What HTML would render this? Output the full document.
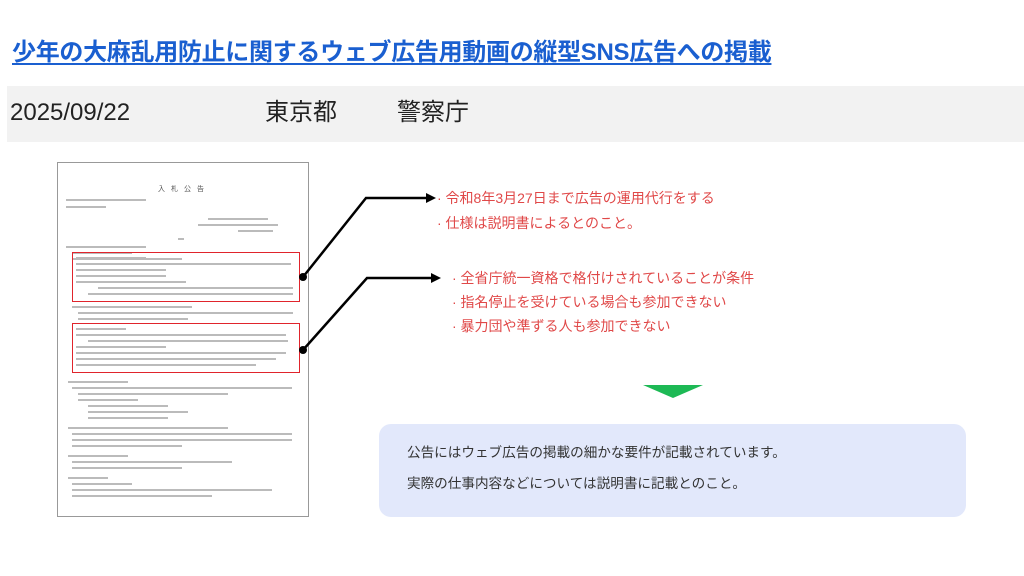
<!DOCTYPE html>
<html><head><meta charset="utf-8"><style>
*{margin:0;padding:0;box-sizing:border-box}
body{width:1024px;height:576px;background:#fff;position:relative;overflow:hidden;font-family:"Liberation Sans","Noto Sans CJK JP",sans-serif}
.a{position:absolute;white-space:nowrap;line-height:1}
.t{left:12px;top:41px;font-size:24px;font-weight:bold;color:#1a5fd0;text-decoration:underline;text-underline-offset:3px;letter-spacing:-0.3px}
.bar{left:7px;top:86px;width:1017px;height:56px;background:#f2f2f2}
.m{top:101px;font-size:24px;color:#222}
.doc{left:57px;top:162px;width:252px;height:355px;border:1px solid #999;background:#fff}
.l{position:absolute;height:2px;background:#bbb}
.rb{position:absolute;border:1.5px solid #e0242c}
.r{font-size:14px;color:#e04848}
.box{left:379px;top:424px;width:587px;height:93px;background:#e2e8fb;border-radius:12px}
.b{font-size:13.6px;color:#333}
</style></head><body>
<div class="a t">少年の大麻乱用防止に関するウェブ広告用動画の縦型SNS広告への掲載</div>
<div class="a bar"></div>
<div class="a m" style="left:10px">2025/09/22</div>
<div class="a m" style="left:265px">東京都</div>
<div class="a m" style="left:397px">警察庁</div>
<div class="a doc">
<div class="a" style="left:100px;top:23px;font-size:7px;color:#555;letter-spacing:6px">入札公告</div>
<div class="l" style="left:8px;top:36px;width:80px"></div>
<div class="l" style="left:8px;top:43px;width:40px"></div>
<div class="l" style="left:150px;top:55px;width:60px"></div>
<div class="l" style="left:140px;top:61px;width:80px"></div>
<div class="l" style="left:180px;top:67px;width:35px"></div>
<div class="l" style="left:120px;top:75px;width:6px"></div>
<div class="l" style="left:8px;top:83px;width:80px"></div>
<div class="l" style="left:14px;top:89px;width:60px"></div>
<div class="l" style="left:14px;top:95px;width:110px"></div>
<div class="rb" style="left:14px;top:89px;width:228px;height:50px"></div>
<div class="l" style="left:18px;top:94px;width:70px"></div>
<div class="l" style="left:18px;top:100px;width:215px"></div>
<div class="l" style="left:18px;top:106px;width:90px"></div>
<div class="l" style="left:18px;top:112px;width:90px"></div>
<div class="l" style="left:18px;top:118px;width:110px"></div>
<div class="l" style="left:40px;top:124px;width:195px"></div>
<div class="l" style="left:30px;top:130px;width:205px"></div>
<div class="l" style="left:14px;top:143px;width:120px"></div>
<div class="l" style="left:20px;top:149px;width:215px"></div>
<div class="l" style="left:20px;top:155px;width:110px"></div>
<div class="rb" style="left:14px;top:160px;width:228px;height:50px"></div>
<div class="l" style="left:18px;top:165px;width:50px"></div>
<div class="l" style="left:18px;top:171px;width:210px"></div>
<div class="l" style="left:30px;top:177px;width:200px"></div>
<div class="l" style="left:18px;top:183px;width:90px"></div>
<div class="l" style="left:18px;top:189px;width:210px"></div>
<div class="l" style="left:18px;top:195px;width:200px"></div>
<div class="l" style="left:18px;top:201px;width:180px"></div>
<div class="l" style="left:10px;top:218px;width:60px"></div>
<div class="l" style="left:14px;top:224px;width:220px"></div>
<div class="l" style="left:20px;top:230px;width:150px"></div>
<div class="l" style="left:20px;top:236px;width:60px"></div>
<div class="l" style="left:30px;top:242px;width:80px"></div>
<div class="l" style="left:30px;top:248px;width:100px"></div>
<div class="l" style="left:30px;top:254px;width:80px"></div>
<div class="l" style="left:10px;top:264px;width:160px"></div>
<div class="l" style="left:14px;top:270px;width:220px"></div>
<div class="l" style="left:14px;top:276px;width:220px"></div>
<div class="l" style="left:14px;top:282px;width:110px"></div>
<div class="l" style="left:10px;top:292px;width:60px"></div>
<div class="l" style="left:14px;top:298px;width:160px"></div>
<div class="l" style="left:14px;top:304px;width:110px"></div>
<div class="l" style="left:10px;top:314px;width:40px"></div>
<div class="l" style="left:14px;top:320px;width:60px"></div>
<div class="l" style="left:14px;top:326px;width:200px"></div>
<div class="l" style="left:14px;top:332px;width:140px"></div>
</div>
<svg class="a" style="left:0;top:0" width="1024" height="576">
<polyline points="303,277 366,198 428,198" fill="none" stroke="#000" stroke-width="2.5"/>
<polygon points="426,193 436,198 426,203" fill="#000"/>
<circle cx="303" cy="277" r="4" fill="#000"/>
<polyline points="303,350 367,278 433,278" fill="none" stroke="#000" stroke-width="2.5"/>
<polygon points="431,273 441,278 431,283" fill="#000"/>
<circle cx="303" cy="350" r="4" fill="#000"/>
<polygon points="643,385 703,385 673,398" fill="#1db955"/>
</svg>
<div class="a r" style="left:437px;top:191px">· 令和8年3月27日まで広告の運用代行をする</div>
<div class="a r" style="left:437px;top:216px">· 仕様は説明書によるとのこと。</div>
<div class="a r" style="left:452px;top:271px">· 全省庁統一資格で格付けされていることが条件</div>
<div class="a r" style="left:452px;top:295px">· 指名停止を受けている場合も参加できない</div>
<div class="a r" style="left:452px;top:319px">· 暴力団や準ずる人も参加できない</div>
<div class="a box"></div>
<div class="a b" style="left:407px;top:446px">公告にはウェブ広告の掲載の細かな要件が記載されています。</div>
<div class="a b" style="left:407px;top:477px">実際の仕事内容などについては説明書に記載とのこと。</div>
</body></html>
